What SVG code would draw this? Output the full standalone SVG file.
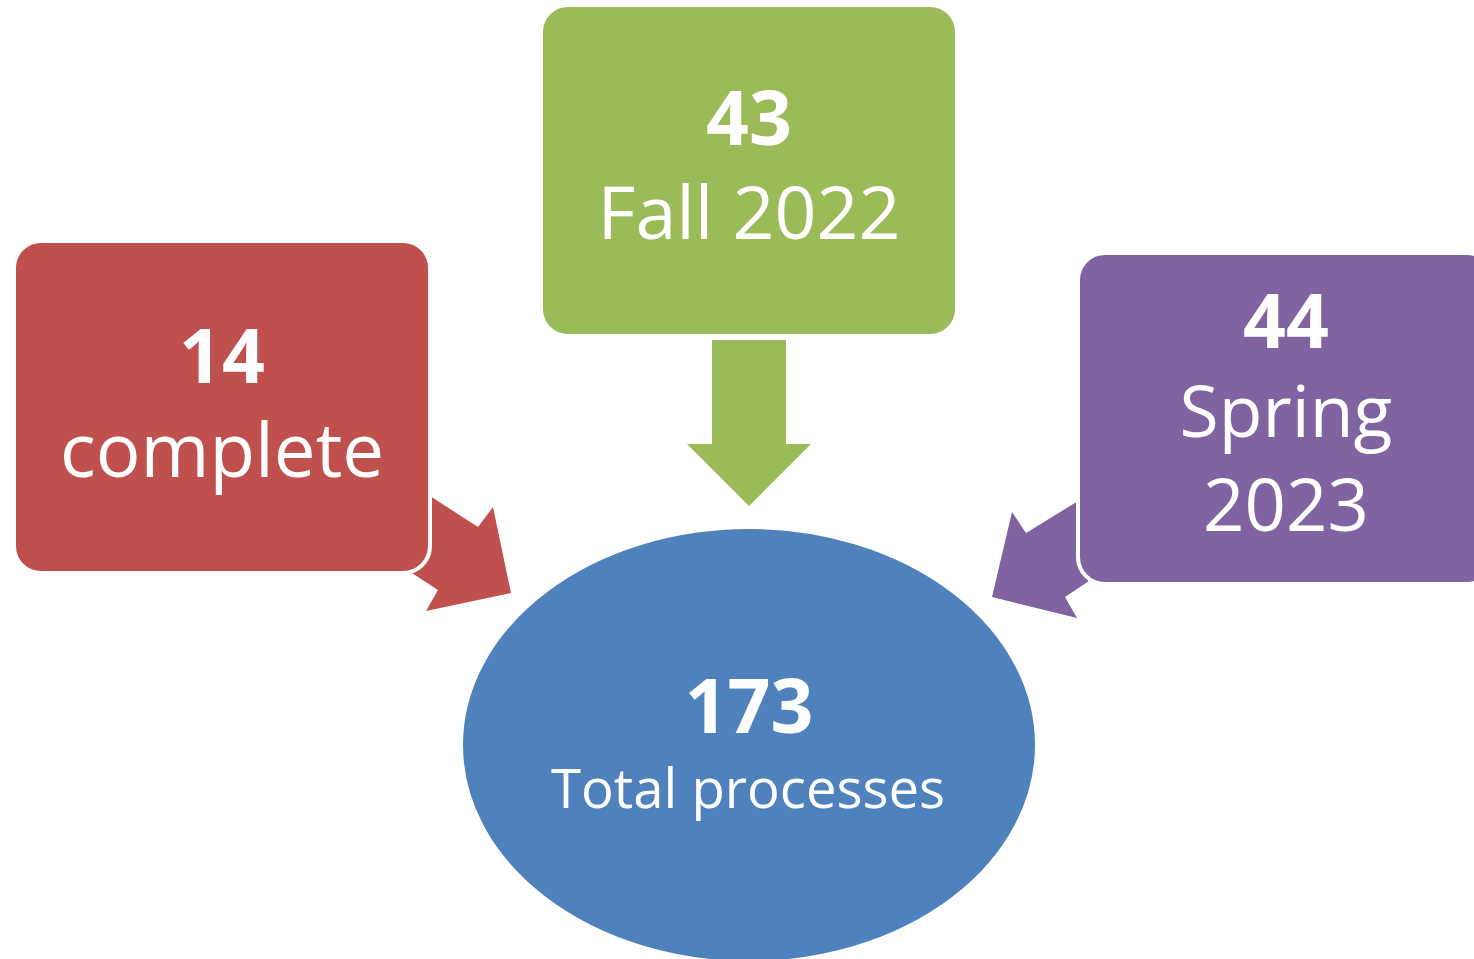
<svg xmlns="http://www.w3.org/2000/svg" width="1474" height="959" viewBox="0 0 1474 959">
  <style>
    .box { stroke: #FFFFFF; stroke-width: 4; }
    .num { font-family: "Open Sans", "Liberation Sans", sans-serif; font-weight: 700; fill: #FFFFFF; text-anchor: middle; }
    .lbl { font-family: "Open Sans", "Liberation Sans", sans-serif; font-weight: 400; fill: #FFFFFF; text-anchor: middle; }
  </style>
  <rect width="1474" height="959" fill="#FFFFFF"/>
  <g id="connectors">
    <polygon id="arrow-green" points="712,340 786,340 786,444 811,444 749,506 687,444 712,444" fill="#9BBB59"/>
    <polygon id="arrow-red" points="399,476 478,527 493,507 511,593 426,611 438,590 378,551" fill="#C0504D"/>
    <polygon id="arrow-purple" points="1109,482 1026,533 1012,512 992,597 1077,618 1065,597 1122,559" fill="#8064A2"/>
  </g>
  <g id="node-complete">
    <rect class="box" x="14" y="241" width="416" height="332" rx="27" fill="#C0504D"/>
    <text class="num" x="222" y="383" font-size="75">14</text>
    <text class="lbl" x="222" y="477" font-size="74.5">complete</text>
  </g>
  <g id="node-fall">
    <rect class="box" x="541" y="5" width="416" height="331" rx="27" fill="#9BBB59"/>
    <text class="num" x="749" y="145" font-size="75">43</text>
    <text class="lbl" x="749" y="239" font-size="73.5">Fall 2022</text>
  </g>
  <g id="node-spring">
    <rect class="box" x="1078" y="253" width="416" height="331" rx="27" fill="#8064A2"/>
    <text class="num" x="1286" y="348" font-size="75">44</text>
    <text class="lbl" x="1286" y="437" font-size="71.5">Spring</text>
    <text class="lbl" x="1286" y="531" font-size="72.5">2023</text>
  </g>
  <g id="node-total">
    <ellipse class="box" cx="749" cy="745" rx="288" ry="218" fill="#4F81BD"/>
    <text class="num" x="749" y="733" font-size="75">173</text>
    <text class="lbl" x="748" y="808" font-size="54.5">Total processes</text>
  </g>
</svg>
